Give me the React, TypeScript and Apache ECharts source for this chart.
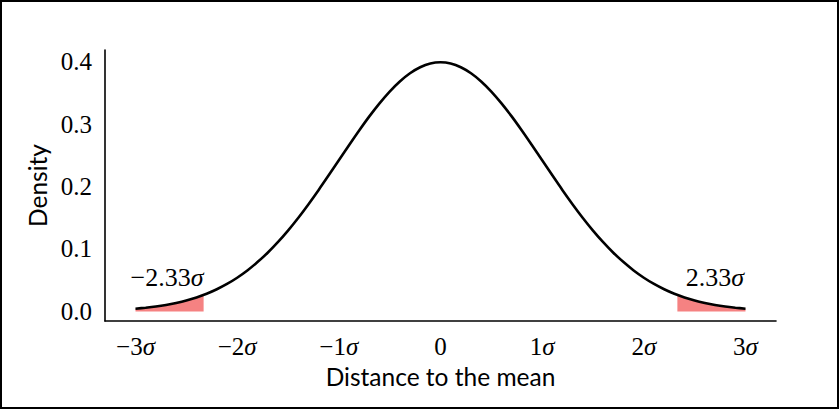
import React, { useEffect, useRef } from "react";
import * as echarts from "echarts";

// Distance to the mean (in σ) and density
const xs = [
  -3.0, -2.9, -2.8, -2.7, -2.6, -2.5, -2.4, -2.3, -2.2, -2.1, -2.0, -1.9, -1.8, -1.7, -1.6, -1.5,
  -1.4, -1.3, -1.2, -1.1, -1.0, -0.9, -0.8, -0.7, -0.6, -0.5, -0.4, -0.3, -0.2, -0.1, 0.0,
  0.1, 0.2, 0.3, 0.4, 0.5, 0.6, 0.7, 0.8, 0.9, 1.0, 1.1, 1.2, 1.3, 1.4, 1.5,
  1.6, 1.7, 1.8, 1.9, 2.0, 2.1, 2.2, 2.3, 2.4, 2.5, 2.6, 2.7, 2.8, 2.9, 3.0,
];
const density = [
  0.0044, 0.006, 0.0079, 0.0104, 0.0136, 0.0175, 0.0224, 0.0283, 0.0355, 0.044, 0.054, 0.0656, 0.079, 0.094, 0.1109, 0.1295,
  0.1497, 0.1714, 0.1942, 0.2179, 0.242, 0.2661, 0.2897, 0.3123, 0.3332, 0.3521, 0.3683, 0.3814, 0.391, 0.397, 0.3989,
  0.397, 0.391, 0.3814, 0.3683, 0.3521, 0.3332, 0.3123, 0.2897, 0.2661, 0.242, 0.2179, 0.1942, 0.1714, 0.1497, 0.1295,
  0.1109, 0.094, 0.079, 0.0656, 0.054, 0.044, 0.0355, 0.0283, 0.0224, 0.0175, 0.0136, 0.0104, 0.0079, 0.006, 0.0044,
];

// Shaded tails
const leftTailX = [-3.0, -2.9, -2.8, -2.7, -2.6, -2.5, -2.4, -2.33];
const leftTailY = [0.0044, 0.006, 0.0079, 0.0104, 0.0136, 0.0175, 0.0224, 0.0264];
const rightTailX = [2.33, 2.4, 2.5, 2.6, 2.7, 2.8, 2.9, 3.0];
const rightTailY = [0.0264, 0.0224, 0.0175, 0.0136, 0.0104, 0.0079, 0.006, 0.0044];

// Annotations
const annotationText = ["−2.33", "2.33"];
const annotationX = [-2.69, 2.7];
const annotationY = [0.055, 0.055];

// Ticks
const xTicks = [-3, -2, -1, 0, 1, 2, 3];
const yTicks = [0, 0.1, 0.2, 0.3, 0.4];

const SERIF = "'Liberation Serif', 'DejaVu Serif', serif";
const SANS = "Lato, 'Open Sans', sans-serif";
const TICK_FS = 25;
const NAME_FS = 24.5;
const ANN_FS = 26;

export default function App() {
  const ref = useRef<HTMLDivElement>(null);

  useEffect(() => {
    if (!ref.current) return;
    const chart = echarts.init(ref.current, null, { renderer: "svg" });
    const pts = xs.map((x, i) => [x, density[i]]);
    const left = leftTailX.map((x, i) => [x, leftTailY[i]]);
    const right = rightTailX.map((x, i) => [x, rightTailY[i]]);
    const ann = annotationX.map((x, i) => ({ value: [x, annotationY[i]], name: annotationText[i] }));

    chart.setOption({
      animation: false,
      backgroundColor: "#ffffff",
      graphic: [
        {
          type: "rect",
          shape: { x: 1, y: 1, width: 837, height: 407 },
          style: { fill: "none", stroke: "#000", lineWidth: 2 },
          z: 100,
        },
      ],
      grid: { left: 105, right: 63, top: 50, bottom: 88, containLabel: false },
      xAxis: {
        type: "value",
        min: -3.3,
        max: 3.3,
        name: "Distance to the mean",
        nameLocation: "middle",
        nameGap: 43,
        nameTextStyle: { fontFamily: SANS, fontSize: NAME_FS, color: "#000" },
        axisLine: { show: true, onZero: false, lineStyle: { color: "#000", width: 1.6 } },
        axisTick: { show: false },
        splitLine: { show: false },
        axisLabel: {
          customValues: xTicks,
          margin: 13,
          fontFamily: SERIF,
          fontSize: TICK_FS,
          color: "#000",
          formatter: (v: number) => {
            if (Math.abs(v) < 1e-9) return "0";
            return `${v < 0 ? "−" : ""}${Math.abs(Math.round(v))}{s|σ}`;
          },
          rich: { s: { fontFamily: SERIF, fontSize: TICK_FS, fontStyle: "italic", color: "#000" } },
        },
      },
      yAxis: {
        type: "value",
        min: -0.0153,
        max: 0.4186,
        name: "Density",
        nameLocation: "middle",
        nameGap: 55,
        nameRotate: 90,
        nameTextStyle: { fontFamily: SANS, fontSize: NAME_FS, color: "#000" },
        axisLine: { show: true, onZero: false, lineStyle: { color: "#000", width: 1.6 } },
        axisTick: { show: false },
        splitLine: { show: false },
        axisLabel: {
          customValues: yTicks,
          margin: 13,
          fontFamily: SERIF,
          fontSize: TICK_FS,
          color: "#000",
          formatter: (v: number) => v.toFixed(1),
        },
      },
      series: [
        {
          type: "line",
          data: left,
          symbol: "none",
          lineStyle: { width: 0 },
          areaStyle: { color: "#f58282", opacity: 1 },
          z: 1,
        },
        {
          type: "line",
          data: right,
          symbol: "none",
          lineStyle: { width: 0 },
          areaStyle: { color: "#f58282", opacity: 1 },
          z: 1,
        },
        {
          type: "line",
          data: pts,
          symbol: "none",
          smooth: 0.3,
          lineStyle: { color: "#000", width: 2.6 },
          z: 3,
        },
        {
          type: "scatter",
          data: ann,
          symbolSize: 0,
          itemStyle: { opacity: 1, color: "transparent" },
          label: {
            show: true,
            position: "inside",
            fontFamily: SERIF,
            fontSize: ANN_FS,
            color: "#000",
            opacity: 1,
            formatter: (p: any) => `${p.name}{s|σ}`,
            rich: { s: { fontFamily: SERIF, fontSize: ANN_FS, fontStyle: "italic", color: "#000" } },
          },
          z: 4,
        },
      ],
    });
    return () => chart.dispose();
  }, []);

  return (
    <div
      ref={ref}
      style={{ position: "fixed", left: 0, top: 0, width: 839, height: 409 }}
    />
  );
}
